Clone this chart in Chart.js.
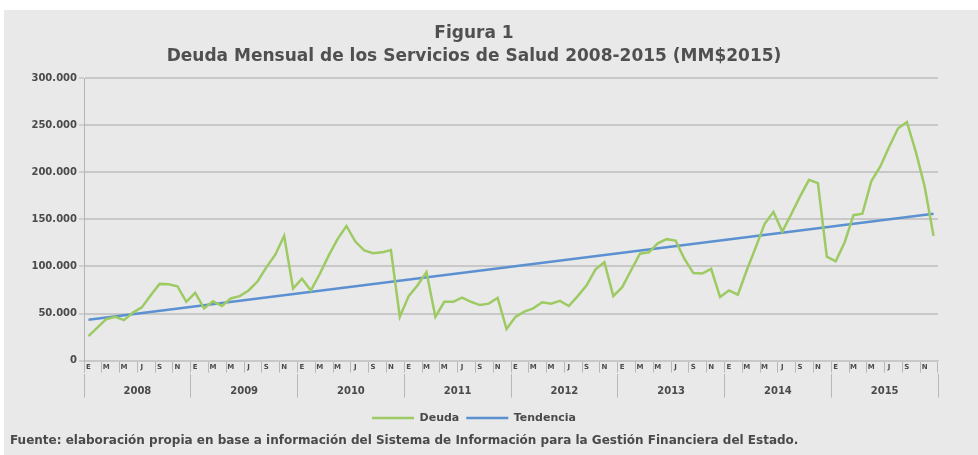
<!DOCTYPE html>
<html>
<head>
<meta charset="utf-8">
<script src="https://cdn.jsdelivr.net/npm/chart.js@4.4.0/dist/chart.umd.min.js"></script>
<style>
    html, body { margin: 0; padding: 0; background: #fff; }
    #box { position: absolute; left: 4px; top: 10px; width: 974px; height: 445px; background: #e9e9e9; }
</style>
</head>
<body>
<div id="box"><canvas id="deudaChart"></canvas></div>
<script>
const years = ["2008", "2009", "2010", "2011", "2012", "2013", "2014", "2015"];
const meses = ["E", "F", "M", "A", "M", "J", "J", "A", "S", "O", "N", "D"];

// deuda mensual (MM$2015), ene 2008 - dic 2015
const deuda = [
    26000, 35000, 44000, 46500, 43000, 51000, 56500, 69500, 81500, 81000, 79000, 62500,
    72000, 55500, 63000, 58000, 66000, 68500, 74500, 84000, 99000, 112500, 132500, 76500,
    87000, 74500, 92000, 111500, 129000, 143000, 126500, 117000, 114000, 115000, 117500, 46500,
    68500, 80000, 94000, 46500, 62500, 62500, 67000, 62500, 59000, 60500, 66500, 33500,
    46500, 52000, 55500, 62000, 60500, 63500, 58000, 68500, 80000, 97000, 104500, 68500,
    78000, 96000, 113500, 115000, 124500, 129000, 127500, 108000, 93000, 92500, 97500, 67500,
    74500, 70000, 96000, 120000, 145000, 158000, 137000, 155500, 174500, 192000, 188500, 110500,
    105500, 125500, 154500, 156000, 190500, 206000, 227000, 246500, 253500, 222000, 185000, 132500
];

// tendencia: valor al inicio y al final
const tendencia = [43500, 156000];

const labels = [];
years.forEach(y => meses.forEach(m => labels.push(m + " " + y)));
const tendData = labels.map((_, i) => i === 0 ? tendencia[0] : (i === labels.length - 1 ? tendencia[1] : null));

const gris = "#c8c8c8";
const texto = "#4a4a4a";
const fuente = "'DejaVu Sans', sans-serif";

const fmt = v => String(v).replace(/\B(?=(\d{3})+(?!\d))/g, ".");

const chart = new Chart(document.getElementById("deudaChart"), {
    type: "line",
    data: {
        labels: labels,
        datasets: [
            {
                label: "Deuda",
                data: deuda,
                borderColor: "#9dca63",
                backgroundColor: "#9dca63",
                borderWidth: 2.5,
                pointRadius: 0,
                tension: 0,
            },
            {
                label: "Tendencia",
                data: tendData,
                spanGaps: true,
                borderColor: "#5b91d1",
                backgroundColor: "#5b91d1",
                borderWidth: 2.5,
                pointRadius: 0,
            }
        ]
    },
    options: {
        responsive: true,
        maintainAspectRatio: false,
        animation: false,
        layout: { padding: { left: 6, right: 40, top: 0, bottom: 4 } },
        plugins: {
            title: {
                display: true,
                text: ["Figura 1", "Deuda Mensual de los Servicios de Salud 2008-2015 (MM$2015)"],
                color: "#505050",
                font: { family: fuente, size: 17, weight: "bold", lineHeight: 1.3 },
                padding: { top: 13, bottom: 11 }
            },
            subtitle: {
                display: true,
                position: "bottom",
                align: "start",
                text: "Fuente: elaboración propia en base a información del Sistema de Información para la Gestión Financiera del Estado.",
                color: texto,
                font: { family: fuente, size: 12, weight: "bold" },
                padding: { top: 0, bottom: 3 }
            },
            legend: {
                position: "bottom",
                labels: {
                    usePointStyle: true,
                    pointStyle: "line",
                    pointStyleWidth: 42,
                    color: texto,
                    font: { family: fuente, size: 11, weight: "bold" },
                    padding: 7
                }
            },
            tooltip: { enabled: false }
        },
        scales: {
            x: {
                offset: true,
                afterFit: s => { s.height = 13; },
                border: { color: gris, width: 1 },
                grid: {
                    offset: true,
                    drawOnChartArea: false,
                    tickLength: 12,
                    color: ctx => (ctx.index === undefined || ctx.index % 2 === 0) ? "#b8b8b8" : "rgba(0,0,0,0)"
                },
                ticks: {
                    autoSkip: false,
                    maxRotation: 0,
                    padding: -10,
                    color: texto,
                    font: { family: fuente, size: 7, weight: "bold" },
                    callback: (v, i) => i % 2 === 0 ? meses[i % 12] : ""
                }
            },
            x2: {
                type: "category",
                labels: years,
                position: "bottom",
                offset: true,
                afterFit: s => { s.height = 32; },
                border: { display: false },
                grid: {
                    offset: true,
                    drawOnChartArea: false,
                    tickLength: 24,
                    color: "#b8b8b8"
                },
                ticks: {
                    maxRotation: 0,
                    padding: -12,
                    color: texto,
                    font: { family: fuente, size: 10, weight: "bold" }
                }
            },
            y: {
                min: 0,
                max: 300000,
                afterFit: s => { s.width = 74; },
                border: { color: "#b5b5b5", width: 1 },
                grid: { color: gris, lineWidth: 2, tickLength: 5, tickColor: "#b5b5b5", tickWidth: 1 },
                ticks: {
                    stepSize: 50000,
                    padding: 2,
                    color: texto,
                    font: { family: fuente, size: 10, weight: "bold" },
                    callback: v => fmt(v)
                }
            }
        }
    }
});
</script>
</body>
</html>
